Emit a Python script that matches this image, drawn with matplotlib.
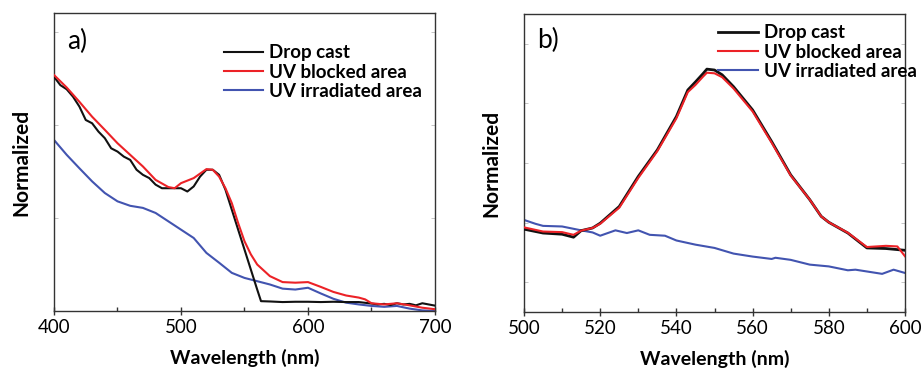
import matplotlib
matplotlib.use("Agg")
import matplotlib.pyplot as plt
import numpy as np

plt.rcParams['font.family'] = ['Lato', 'DejaVu Sans']

# ---------- Panel a data ----------
wl_a_red = [400, 410, 420, 430, 440, 450, 460, 470, 480, 490, 495, 500, 510, 520, 525, 530,
            535, 540, 545, 550, 555, 560, 570, 580, 590, 600, 610, 620, 630, 640, 645, 650,
            660, 670, 680, 690, 700]
red_a = [0.792, 0.750, 0.702, 0.652, 0.608, 0.563, 0.524, 0.485, 0.440, 0.416, 0.412, 0.429,
         0.446, 0.476, 0.474, 0.451, 0.412, 0.362, 0.295, 0.234, 0.190, 0.156, 0.117, 0.097,
         0.095, 0.097, 0.081, 0.064, 0.052, 0.045, 0.039, 0.026, 0.022, 0.026, 0.019, 0.011,
         0.006]

wl_a_black = [400, 405, 410, 415, 420, 425, 430, 435, 440, 445, 450, 455, 460, 465, 470, 475,
              480, 485, 490, 495, 500, 505, 510, 515, 520, 525, 530, 535, 540, 545, 550, 555,
              560, 563, 570, 580, 590, 600, 610, 620, 630, 640, 650, 655, 660, 665, 670, 675,
              680, 685, 690, 695, 700]
black_a = [0.786, 0.758, 0.744, 0.719, 0.686, 0.641, 0.630, 0.602, 0.580, 0.546, 0.535, 0.518,
           0.507, 0.474, 0.457, 0.446, 0.424, 0.412, 0.412, 0.412, 0.412, 0.401, 0.418, 0.451,
           0.474, 0.474, 0.457, 0.407, 0.340, 0.273, 0.206, 0.139, 0.072, 0.033, 0.032, 0.030,
           0.031, 0.031, 0.030, 0.031, 0.030, 0.030, 0.025, 0.022, 0.024, 0.020, 0.026, 0.022,
           0.024, 0.019, 0.026, 0.022, 0.018]

wl_a_blue = [400, 410, 420, 430, 440, 450, 460, 470, 480, 490, 500, 510, 520, 530, 540, 550,
             560, 570, 580, 590, 600, 610, 620, 630, 640, 650, 660, 670, 680, 690, 700]
blue_a = [0.574, 0.524, 0.479, 0.435, 0.396, 0.368, 0.353, 0.346, 0.329, 0.301, 0.273, 0.245,
          0.195, 0.162, 0.128, 0.111, 0.100, 0.089, 0.075, 0.072, 0.078, 0.059, 0.041, 0.028,
          0.022, 0.017, 0.014, 0.017, 0.008, 0.002, 0.000]

# ---------- Panel b data ----------
wl_b_black = [500, 505, 510, 513, 515, 518, 520, 525, 530, 535, 540, 543, 545, 547, 548, 550,
              552, 555, 560, 565, 570, 575, 578, 580, 585, 590, 595, 600]
black_b = [0.278, 0.265, 0.261, 0.251, 0.273, 0.282, 0.298, 0.354, 0.455, 0.544, 0.656, 0.745,
           0.772, 0.800, 0.815, 0.812, 0.796, 0.756, 0.678, 0.572, 0.460, 0.377, 0.321, 0.301,
           0.265, 0.215, 0.213, 0.207]

wl_b_red = [500, 505, 510, 513, 515, 518, 520, 525, 530, 535, 540, 543, 545, 547, 548, 550,
            552, 555, 560, 565, 570, 575, 578, 580, 585, 590, 595, 598, 600]
red_b = [0.284, 0.270, 0.268, 0.259, 0.273, 0.282, 0.296, 0.350, 0.450, 0.540, 0.650, 0.738,
         0.762, 0.790, 0.803, 0.801, 0.788, 0.750, 0.673, 0.568, 0.458, 0.377, 0.321, 0.301,
         0.266, 0.218, 0.222, 0.220, 0.187]

wl_b_blue = [500, 503, 505, 510, 515, 518, 520, 522, 524, 527, 530, 533, 537, 540, 545, 550,
             555, 560, 565, 566, 570, 575, 580, 585, 587, 590, 594, 597, 600]
blue_b = [0.309, 0.296, 0.289, 0.287, 0.274, 0.267, 0.256, 0.265, 0.274, 0.265, 0.274, 0.259,
          0.256, 0.240, 0.226, 0.215, 0.196, 0.186, 0.178, 0.182, 0.175, 0.159, 0.153, 0.140,
          0.142, 0.136, 0.128, 0.142, 0.131]

labels = ["Drop cast", "UV blocked area", "UV irradiated area"]
C_BLACK = "#111111"
C_RED = "#ec2227"
C_BLUE = "#4254b0"

fig = plt.figure(figsize=(9.23, 3.69), dpi=100)
axa = fig.add_axes([54 / 923, 1 - 311 / 369, 381 / 923, 298 / 369])
axb = fig.add_axes([524 / 923, 1 - 312 / 369, 381 / 923, 298 / 369])

lw = 1.5
axa.plot(wl_a_black, black_a, color=C_BLACK, lw=lw, label=labels[0], zorder=3)
axa.plot(wl_a_red, red_a, color=C_RED, lw=lw, label=labels[1], zorder=4)
axa.plot(wl_a_blue, blue_a, color=C_BLUE, lw=lw, label=labels[2], zorder=2)

axb.plot(wl_b_black, black_b, color=C_BLACK, lw=lw + 0.5, label=labels[0], zorder=3)
axb.plot(wl_b_red, red_b, color=C_RED, lw=lw, label=labels[1], zorder=4)
axb.plot(wl_b_blue, blue_b, color=C_BLUE, lw=lw, label=labels[2], zorder=2)

axa.set_xlim(400, 700)
axb.set_xlim(500, 600)
axa.set_ylim(0, 1)
axb.set_ylim(0, 1)
axa.set_xticks([400, 500, 600, 700])
axa.set_xticks([450, 550, 650], minor=True)
axb.set_xticks([500, 520, 540, 560, 580, 600])
axb.set_xticks([510, 530, 550, 570, 590], minor=True)
axa.set_yticks([0.312, 0.624, 0.936])
axb.set_yticks([0.1, 0.3, 0.5, 0.7, 0.9])

# (axes, panel text, text x, text y, legend x (axes frac), legend top (axes frac))
for ax, panel, lx, ly, legx, legy in [(axa, "a)", 0.035, 0.905, 0.445, 0.895),
                                      (axb, "b)", 0.035, 0.91, 0.51, 0.965)]:
    for s in ax.spines.values():
        s.set_color("#333333")
        s.set_linewidth(1.0)
    ax.tick_params(axis='x', which='major', direction='inout', length=6, width=1,
                   labelsize=13.5, pad=3, color="#333333")
    ax.tick_params(axis='x', which='minor', direction='in', length=3, width=1, color="#333333")
    ax.tick_params(axis='y', which='both', direction='in', length=3, width=0.6,
                   left=True, right=True, labelleft=False, color="#bbbbbb")
    ax.set_xlabel("Wavelength (nm)", fontsize=14, fontweight='bold', labelpad=9)
    ax.set_ylabel("Normalized", fontsize=15, fontweight='bold', labelpad=16)
    ax.text(lx, ly, panel, transform=ax.transAxes, fontsize=19, va='center', ha='left')
    leg = ax.legend(loc='upper left', bbox_to_anchor=(legx, legy), frameon=False,
                    fontsize=13.5, handlelength=2.1, handletextpad=0.35, labelspacing=0.12,
                    borderaxespad=0, borderpad=0)
    for t in leg.get_texts():
        t.set_fontweight('bold')

fig.savefig("out.png", dpi=100)
